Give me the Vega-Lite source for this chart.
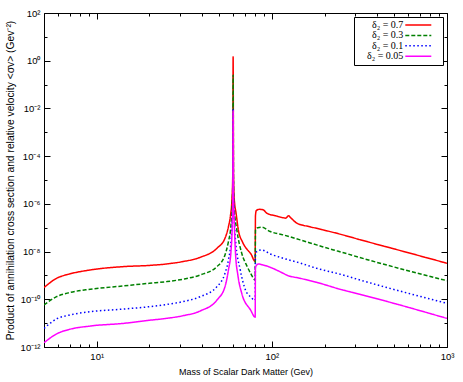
{
  "$schema": "https://vega.github.io/schema/vega-lite/v6.json",
  "autosize": "none",
  "width": 403,
  "height": 334,
  "padding": {"left": 44, "top": 13, "right": 16, "bottom": 35},
  "config": {
    "view": {"stroke": "black", "strokeWidth": 1},
    "font": "Liberation Sans",
    "axis": {"labelFont": "Liberation Sans", "labelFontSize": 9.5, "labelColor": "black", "titleFont": "Liberation Sans", "titleFontSize": 9, "titleFontWeight": "normal", "titleColor": "black", "tickColor": "black", "domain": false, "grid": false}
  },
  "datasets": {
    "curves": [
      {"m": 5, "sv": 3.09e-10, "d": "δ₂ = 0.7"},
      {"m": 5.9, "sv": 7.59e-10, "d": "δ₂ = 0.7"},
      {"m": 7.0, "sv": 1.15e-9, "d": "δ₂ = 0.7"},
      {"m": 9.2, "sv": 1.70e-9, "d": "δ₂ = 0.7"},
      {"m": 14.2, "sv": 2.34e-9, "d": "δ₂ = 0.7"},
      {"m": 20, "sv": 2.63e-9, "d": "δ₂ = 0.7"},
      {"m": 25, "sv": 3.02e-9, "d": "δ₂ = 0.7"},
      {"m": 31, "sv": 3.80e-9, "d": "δ₂ = 0.7"},
      {"m": 39, "sv": 5.75e-9, "d": "δ₂ = 0.7"},
      {"m": 48.6, "sv": 1.38e-8, "d": "δ₂ = 0.7"},
      {"m": 54, "sv": 3.63e-8, "d": "δ₂ = 0.7"},
      {"m": 56.5, "sv": 1.10e-7, "d": "δ₂ = 0.7"},
      {"m": 58, "sv": 3.16e-7, "d": "δ₂ = 0.7"},
      {"m": 59.2, "sv": 1.585e-6, "d": "δ₂ = 0.7"},
      {"m": 59.8, "sv": 1.585e-5, "d": "δ₂ = 0.7"},
      {"m": 60.1, "sv": 1.48, "d": "δ₂ = 0.7"},
      {"m": 60.4, "sv": 1.585e-5, "d": "δ₂ = 0.7"},
      {"m": 61, "sv": 1.585e-6, "d": "δ₂ = 0.7"},
      {"m": 62.5, "sv": 3.98e-7, "d": "δ₂ = 0.7"},
      {"m": 64.4, "sv": 7.94e-8, "d": "δ₂ = 0.7"},
      {"m": 68, "sv": 2.51e-8, "d": "δ₂ = 0.7"},
      {"m": 72, "sv": 1.26e-8, "d": "δ₂ = 0.7"},
      {"m": 76, "sv": 7.94e-9, "d": "δ₂ = 0.7"},
      {"m": 80.3, "sv": 3.80e-9, "d": "δ₂ = 0.7"},
      {"m": 80.6, "sv": 3.16e-7, "d": "δ₂ = 0.7"},
      {"m": 81.5, "sv": 5.25e-7, "d": "δ₂ = 0.7"},
      {"m": 85, "sv": 5.89e-7, "d": "δ₂ = 0.7"},
      {"m": 89, "sv": 5.62e-7, "d": "δ₂ = 0.7"},
      {"m": 94, "sv": 3.98e-7, "d": "δ₂ = 0.7"},
      {"m": 105, "sv": 3.16e-7, "d": "δ₂ = 0.7"},
      {"m": 116, "sv": 2.63e-7, "d": "δ₂ = 0.7"},
      {"m": 120, "sv": 2.51e-7, "d": "δ₂ = 0.7"},
      {"m": 124.5, "sv": 3.16e-7, "d": "δ₂ = 0.7"},
      {"m": 128, "sv": 2.63e-7, "d": "δ₂ = 0.7"},
      {"m": 139, "sv": 1.55e-7, "d": "δ₂ = 0.7"},
      {"m": 165, "sv": 1.10e-7, "d": "δ₂ = 0.7"},
      {"m": 196, "sv": 8.13e-8, "d": "δ₂ = 0.7"},
      {"m": 254, "sv": 5.01e-8, "d": "δ₂ = 0.7"},
      {"m": 318, "sv": 3.16e-8, "d": "δ₂ = 0.7"},
      {"m": 500, "sv": 1.29e-8, "d": "δ₂ = 0.7"},
      {"m": 1000, "sv": 3.24e-9, "d": "δ₂ = 0.7"},

      {"m": 5, "sv": 5.75e-11, "d": "δ₂ = 0.3"},
      {"m": 5.9, "sv": 1.29e-10, "d": "δ₂ = 0.3"},
      {"m": 7.0, "sv": 1.91e-10, "d": "δ₂ = 0.3"},
      {"m": 9.2, "sv": 2.63e-10, "d": "δ₂ = 0.3"},
      {"m": 14.2, "sv": 3.63e-10, "d": "δ₂ = 0.3"},
      {"m": 20, "sv": 4.68e-10, "d": "δ₂ = 0.3"},
      {"m": 25, "sv": 5.50e-10, "d": "δ₂ = 0.3"},
      {"m": 31, "sv": 6.92e-10, "d": "δ₂ = 0.3"},
      {"m": 39, "sv": 1.05e-9, "d": "δ₂ = 0.3"},
      {"m": 48.6, "sv": 2.34e-9, "d": "δ₂ = 0.3"},
      {"m": 54, "sv": 7.24e-9, "d": "δ₂ = 0.3"},
      {"m": 56.5, "sv": 2.63e-8, "d": "δ₂ = 0.3"},
      {"m": 58.3, "sv": 1.10e-7, "d": "δ₂ = 0.3"},
      {"m": 59.4, "sv": 1.0e-6, "d": "δ₂ = 0.3"},
      {"m": 59.8, "sv": 6.31e-6, "d": "δ₂ = 0.3"},
      {"m": 60.1, "sv": 0.251, "d": "δ₂ = 0.3"},
      {"m": 60.4, "sv": 6.31e-6, "d": "δ₂ = 0.3"},
      {"m": 61, "sv": 6.31e-7, "d": "δ₂ = 0.3"},
      {"m": 63.1, "sv": 8.13e-8, "d": "δ₂ = 0.3"},
      {"m": 67.3, "sv": 8.51e-9, "d": "δ₂ = 0.3"},
      {"m": 72, "sv": 2.51e-9, "d": "δ₂ = 0.3"},
      {"m": 75.6, "sv": 1.23e-9, "d": "δ₂ = 0.3"},
      {"m": 80.3, "sv": 6.46e-10, "d": "δ₂ = 0.3"},
      {"m": 80.6, "sv": 7.94e-8, "d": "δ₂ = 0.3"},
      {"m": 83, "sv": 1.0e-7, "d": "δ₂ = 0.3"},
      {"m": 87.5, "sv": 1.05e-7, "d": "δ₂ = 0.3"},
      {"m": 97.8, "sv": 6.92e-8, "d": "δ₂ = 0.3"},
      {"m": 116, "sv": 5.01e-8, "d": "δ₂ = 0.3"},
      {"m": 145, "sv": 3.09e-8, "d": "δ₂ = 0.3"},
      {"m": 180, "sv": 1.91e-8, "d": "δ₂ = 0.3"},
      {"m": 225, "sv": 1.17e-8, "d": "δ₂ = 0.3"},
      {"m": 254, "sv": 9.12e-9, "d": "δ₂ = 0.3"},
      {"m": 318, "sv": 5.62e-9, "d": "δ₂ = 0.3"},
      {"m": 1000, "sv": 6.03e-10, "d": "δ₂ = 0.3"},

      {"m": 5, "sv": 6.03e-12, "d": "δ₂ = 0.1"},
      {"m": 5.9, "sv": 1.51e-11, "d": "δ₂ = 0.1"},
      {"m": 7.0, "sv": 2.19e-11, "d": "δ₂ = 0.1"},
      {"m": 9.2, "sv": 3.02e-11, "d": "δ₂ = 0.1"},
      {"m": 14.2, "sv": 3.89e-11, "d": "δ₂ = 0.1"},
      {"m": 20, "sv": 4.90e-11, "d": "δ₂ = 0.1"},
      {"m": 25, "sv": 6.03e-11, "d": "δ₂ = 0.1"},
      {"m": 31, "sv": 7.94e-11, "d": "δ₂ = 0.1"},
      {"m": 39, "sv": 1.29e-10, "d": "δ₂ = 0.1"},
      {"m": 48.6, "sv": 3.39e-10, "d": "δ₂ = 0.1"},
      {"m": 54, "sv": 1.23e-9, "d": "δ₂ = 0.1"},
      {"m": 56.5, "sv": 4.47e-9, "d": "δ₂ = 0.1"},
      {"m": 58.5, "sv": 3.09e-8, "d": "δ₂ = 0.1"},
      {"m": 59.5, "sv": 3.16e-7, "d": "δ₂ = 0.1"},
      {"m": 59.85, "sv": 3.16e-6, "d": "δ₂ = 0.1"},
      {"m": 60.1, "sv": 0.01, "d": "δ₂ = 0.1"},
      {"m": 60.35, "sv": 3.16e-6, "d": "δ₂ = 0.1"},
      {"m": 61, "sv": 2.51e-7, "d": "δ₂ = 0.1"},
      {"m": 62, "sv": 3.09e-8, "d": "δ₂ = 0.1"},
      {"m": 66, "sv": 1.70e-9, "d": "δ₂ = 0.1"},
      {"m": 70.6, "sv": 2.51e-10, "d": "δ₂ = 0.1"},
      {"m": 75.6, "sv": 1.26e-10, "d": "δ₂ = 0.1"},
      {"m": 80.3, "sv": 8.91e-11, "d": "δ₂ = 0.1"},
      {"m": 80.6, "sv": 7.94e-9, "d": "δ₂ = 0.1"},
      {"m": 83, "sv": 1.07e-8, "d": "δ₂ = 0.1"},
      {"m": 87.5, "sv": 1.17e-8, "d": "δ₂ = 0.1"},
      {"m": 97.8, "sv": 7.94e-9, "d": "δ₂ = 0.1"},
      {"m": 116, "sv": 5.25e-9, "d": "δ₂ = 0.1"},
      {"m": 145, "sv": 3.31e-9, "d": "δ₂ = 0.1"},
      {"m": 180, "sv": 2.00e-9, "d": "δ₂ = 0.1"},
      {"m": 254, "sv": 1.05e-9, "d": "δ₂ = 0.1"},
      {"m": 318, "sv": 6.46e-10, "d": "δ₂ = 0.1"},
      {"m": 1000, "sv": 6.76e-11, "d": "δ₂ = 0.1"},

      {"m": 5, "sv": 1.51e-12, "d": "δ₂ = 0.05"},
      {"m": 5.9, "sv": 3.55e-12, "d": "δ₂ = 0.05"},
      {"m": 7.0, "sv": 5.50e-12, "d": "δ₂ = 0.05"},
      {"m": 9.2, "sv": 7.59e-12, "d": "δ₂ = 0.05"},
      {"m": 14.2, "sv": 9.77e-12, "d": "δ₂ = 0.05"},
      {"m": 20, "sv": 1.32e-11, "d": "δ₂ = 0.05"},
      {"m": 25, "sv": 1.585e-11, "d": "δ₂ = 0.05"},
      {"m": 31, "sv": 2.04e-11, "d": "δ₂ = 0.05"},
      {"m": 39, "sv": 3.24e-11, "d": "δ₂ = 0.05"},
      {"m": 48.6, "sv": 9.33e-11, "d": "δ₂ = 0.05"},
      {"m": 54, "sv": 3.39e-10, "d": "δ₂ = 0.05"},
      {"m": 56.5, "sv": 1.70e-9, "d": "δ₂ = 0.05"},
      {"m": 58.5, "sv": 1.17e-8, "d": "δ₂ = 0.05"},
      {"m": 59.5, "sv": 2.00e-7, "d": "δ₂ = 0.05"},
      {"m": 59.85, "sv": 2.51e-6, "d": "δ₂ = 0.05"},
      {"m": 60.1, "sv": 7.94e-3, "d": "δ₂ = 0.05"},
      {"m": 60.35, "sv": 2.51e-6, "d": "δ₂ = 0.05"},
      {"m": 61, "sv": 1.585e-7, "d": "δ₂ = 0.05"},
      {"m": 62, "sv": 8.51e-9, "d": "δ₂ = 0.05"},
      {"m": 64, "sv": 1.0e-9, "d": "δ₂ = 0.05"},
      {"m": 67.3, "sv": 1.78e-10, "d": "δ₂ = 0.05"},
      {"m": 75.6, "sv": 3.55e-11, "d": "δ₂ = 0.05"},
      {"m": 80.3, "sv": 1.78e-11, "d": "δ₂ = 0.05"},
      {"m": 80.6, "sv": 2.24e-9, "d": "δ₂ = 0.05"},
      {"m": 84, "sv": 3.02e-9, "d": "δ₂ = 0.05"},
      {"m": 88, "sv": 2.82e-9, "d": "δ₂ = 0.05"},
      {"m": 116, "sv": 1.23e-9, "d": "δ₂ = 0.05"},
      {"m": 121, "sv": 1.05e-9, "d": "δ₂ = 0.05"},
      {"m": 145, "sv": 7.59e-10, "d": "δ₂ = 0.05"},
      {"m": 180, "sv": 5.13e-10, "d": "δ₂ = 0.05"},
      {"m": 254, "sv": 2.45e-10, "d": "δ₂ = 0.05"},
      {"m": 318, "sv": 1.62e-10, "d": "δ₂ = 0.05"},
      {"m": 1000, "sv": 1.585e-11, "d": "δ₂ = 0.05"}
    ]
  },
  "data": {"name": "curves"},
  "resolve": {"scale": {"x": "shared", "y": "shared"}, "axis": {"x": "independent", "y": "independent"}},
  "layer": [
    {
      "mark": {"type": "line", "strokeWidth": 1.5, "clip": true, "interpolate": "monotone"},
      "encoding": {
        "x": {
          "field": "m", "type": "quantitative",
          "scale": {"type": "log", "domain": [5, 1000], "nice": false},
          "axis": {
            "orient": "bottom",
            "title": "Mass of Scalar Dark Matter (Gev)",
            "titlePadding": 4,
            "values": [5, 6, 7, 8, 9, 10, 20, 30, 40, 50, 60, 70, 80, 90, 100, 200, 300, 400, 500, 600, 700, 800, 900, 1000],
            "labelExpr": "datum.value == 10 ? '10¹' : datum.value == 100 ? '10²' : datum.value == 1000 ? '10³' : ''",
            "tickSize": {"condition": {"test": "datum.value == 10 || datum.value == 100 || datum.value == 1000", "value": -6}, "value": -3},
            "labelPadding": 10,
            "labelFlush": false,
            "labelOverlap": false
          }
        },
        "y": {
          "field": "sv", "type": "quantitative",
          "scale": {"type": "log", "domain": [1e-12, 100], "nice": false},
          "axis": {
            "orient": "left",
            "title": "Product of annihilation cross section and relative velocity <σv> (Gev⁻²)",
            "titleFontSize": 10.3,
            "titlePadding": 5,
            "values": [1e-12, 1e-11, 1e-10, 1e-9, 1e-8, 1e-7, 1e-6, 1e-5, 1e-4, 1e-3, 1e-2, 1e-1, 1, 10, 100],
            "labelExpr": "round(log(datum.value)/LN10) % 2 == 0 ? '10' + ['⁻¹²','⁻¹¹','⁻¹⁰','⁻⁹','⁻⁸','⁻⁷','⁻⁶','⁻⁵','⁻⁴','⁻³','⁻²','⁻¹','⁰','¹','²'][round(log(datum.value)/LN10)+12] : ''",
            "tickSize": {"condition": {"test": "round(log(datum.value)/LN10) % 2 == 0", "value": -6}, "value": -3},
            "labelPadding": 10,
            "labelFlush": false,
            "labelOverlap": false
          }
        },
        "color": {
          "field": "d", "type": "nominal",
          "scale": {"domain": ["δ₂ = 0.7", "δ₂ = 0.3", "δ₂ = 0.1", "δ₂ = 0.05"], "range": ["#ff0000", "#008000", "#0000ff", "#ff00ff"]},
          "legend": {
            "title": null,
            "orient": "top-right",
            "offset": 4,
            "fillColor": "white",
            "strokeColor": "black",
            "padding": 3,
            "symbolType": "M21.65,0H34.65M37.2,0",
            "symbolSize": 16,
            "symbolStrokeWidth": 1.5,
            "labelFont": "Liberation Serif",
            "labelFontSize": 10,
            "labelColor": "black",
            "labelAlign": "right",
            "labelOffset": 36.3,
            "rowPadding": 0.4
          }
        },
        "strokeDash": {
          "field": "d", "type": "nominal",
          "scale": {"domain": ["δ₂ = 0.7", "δ₂ = 0.3", "δ₂ = 0.1", "δ₂ = 0.05"], "range": [[1, 0], [4, 2], [1.5, 2.5], [1, 0]]},
          "legend": null
        }
      }
    },
    {
      "mark": {"type": "line", "strokeOpacity": 0},
      "encoding": {
        "x": {
          "field": "m", "type": "quantitative",
          "axis": {
            "orient": "top", "title": null, "labels": false,
            "values": [5, 6, 7, 8, 9, 10, 20, 30, 40, 50, 60, 70, 80, 90, 100, 200, 300, 400, 500, 600, 700, 800, 900, 1000],
            "tickSize": {"condition": {"test": "datum.value == 10 || datum.value == 100 || datum.value == 1000", "value": -6}, "value": -3}
          }
        },
        "y": {
          "field": "sv", "type": "quantitative",
          "axis": {
            "orient": "right", "title": null, "labels": false,
            "values": [1e-12, 1e-11, 1e-10, 1e-9, 1e-8, 1e-7, 1e-6, 1e-5, 1e-4, 1e-3, 1e-2, 1e-1, 1, 10, 100],
            "tickSize": {"condition": {"test": "round(log(datum.value)/LN10) % 2 == 0", "value": -6}, "value": -3}
          }
        },
        "detail": {"field": "d", "type": "nominal"}
      }
    }
  ]
}
